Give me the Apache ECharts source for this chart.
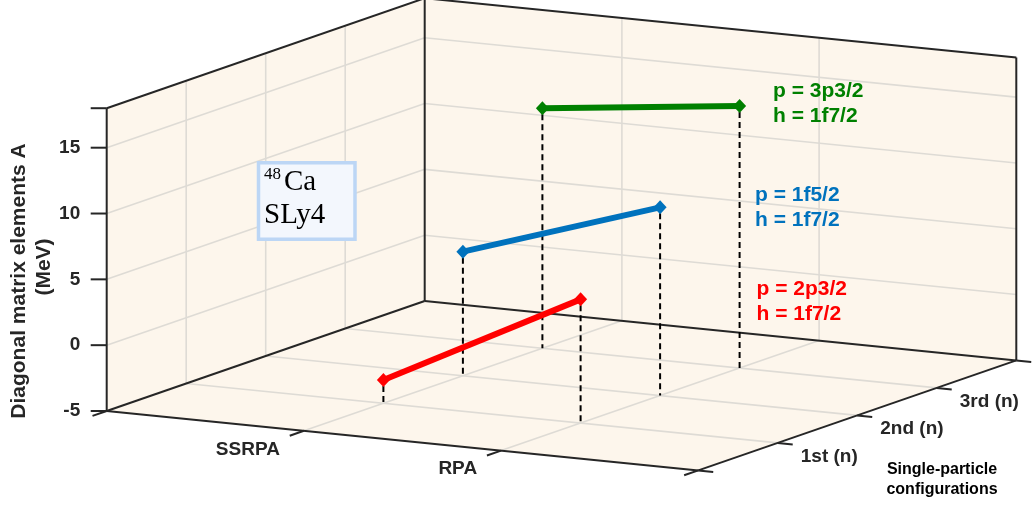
<!DOCTYPE html>
<html><head><meta charset="utf-8">
<script src="https://cdn.jsdelivr.net/npm/echarts@6/dist/echarts.min.js"></script>
<style>html,body{margin:0;padding:0;background:#fff}#chart{width:1032px;height:505px}</style>
</head><body><div id="chart"></div>
<script>
// ---------- data ----------
const methods = ['SSRPA', 'RPA'];
const configs = ['1st (n)', '2nd (n)', '3rd (n)'];
const xTickValues = [0, 1, 2, 3];
const xTickLabels = ['', 'SSRPA', 'RPA', ''];
const yTickValues = [0, 1, 2, 3, 4];
const yTickLabels = ['', '1st (n)', '2nd (n)', '3rd (n)', ''];
const zTickValues = [-5, 0, 5, 10, 15, 18];
const zTickLabels = ['-5', '0', '5', '10', '15', ''];
const zGridValues = [0, 5, 10, 15];
const xGridValues = [1, 2];
const yGridValues = [1, 2, 3];
const xLim = [0, 3], yLim = [0, 4], zLim = [-5, 18];
// each series: configuration position (1st/2nd/3rd) and values at SSRPA (x=1), RPA (x=2)
const redConfig = 1,   redValues   = [-3.23, 4.4];
const blueConfig = 2,  blueValues  = [4.43, 9.3];
const greenConfig = 3, greenValues = [13.23, 14.9];
const methodPos = [1, 2];

// ---------- orthographic view (projection onto drawing plane) ----------
const VIEW = { ox: 106.7, oy: 411, ex: [197.2, 19.8], ey: [79.5, -27.5], ez: -13.165 };
function P(x, y, z) {
  const dx = x - xLim[0], dy = y - yLim[0], dz = z - zLim[0];
  return [VIEW.ox + dx * VIEW.ex[0] + dy * VIEW.ey[0],
          VIEW.oy + dx * VIEW.ex[1] + dy * VIEW.ey[1] + dz * VIEW.ez];
}

const FONT = '"Liberation Sans", Arial, sans-serif';
const SERIF = '"Liberation Serif", "DejaVu Serif", serif';
const TXT = '#262626';

function renderBox(params, api) {
  const c = (x, y, z) => api.coord(P(x, y, z));
  const ch = [];
  const poly = (pts, fill) => ch.push({ type: 'polygon', shape: { points: pts }, style: { fill: fill, stroke: null } });
  const seg = (a, b, st) => ch.push({ type: 'line', shape: { x1: a[0], y1: a[1], x2: b[0], y2: b[1] }, style: st });
  const txt = (t, x, y, align, va, size, color) => ch.push({ type: 'text', style: { text: t, x: x, y: y, align: align, verticalAlign: va, font: 'bold ' + size + 'px ' + FONT, fill: color } });
  const [x0, x1] = xLim, [y0, y1] = yLim, [z0, z1] = zLim;
  const wall = '#fdf6ec';
  // walls
  poly([c(x0, y0, z0), c(x0, y1, z0), c(x0, y1, z1), c(x0, y0, z1)], wall);
  poly([c(x0, y1, z0), c(x1, y1, z0), c(x1, y1, z1), c(x0, y1, z1)], wall);
  poly([c(x0, y0, z0), c(x1, y0, z0), c(x1, y1, z0), c(x0, y1, z0)], wall);
  // grid
  const g = { stroke: '#dedbd5', lineWidth: 1.6 };
  zGridValues.forEach(z => { seg(c(x0, y0, z), c(x0, y1, z), g); seg(c(x0, y1, z), c(x1, y1, z), g); });
  yGridValues.forEach(y => { seg(c(x0, y, z0), c(x0, y, z1), g); seg(c(x0, y, z0), c(x1, y, z0), g); });
  xGridValues.forEach(x => { seg(c(x, y1, z0), c(x, y1, z1), g); seg(c(x, y0, z0), c(x, y1, z0), g); });
  // edges
  const e = { stroke: '#262626', lineWidth: 2 };
  seg(c(x0, y0, z0), c(x0, y0, z1), e);
  seg(c(x0, y0, z1), c(x0, y1, z1), e);
  seg(c(x0, y1, z0), c(x0, y1, z1), e);
  seg(c(x0, y1, z1), c(x1, y1, z1), e);
  seg(c(x1, y1, z0), c(x1, y1, z1), e);
  seg(c(x0, y0, z0), c(x1, y0, z0), e);
  seg(c(x1, y0, z0), c(x1, y1, z0), e);
  seg(c(x1, y1, z0), c(x0, y1, z0), e);
  seg(c(x0, y1, z0), c(x0, y0, z0), e);
  // ticks
  const L = 15;
  const nY = Math.hypot(VIEW.ey[0], VIEW.ey[1]), nX = Math.hypot(VIEW.ex[0], VIEW.ex[1]);
  const dX = [-VIEW.ey[0] / nY * L, -VIEW.ey[1] / nY * L];
  const dY = [VIEW.ex[0] / nX * L, VIEW.ex[1] / nX * L];
  xTickValues.forEach((x, i) => {
    const p = c(x, y0, z0);
    seg(p, [p[0] + dX[0], p[1] + dX[1]], e);
    if (xTickLabels[i]) txt(xTickLabels[i], p[0] - 24, p[1] + 18.6, 'right', 'middle', 19, TXT);
  });
  yTickValues.forEach((y, i) => {
    const p = c(x1, y, z0);
    seg(p, [p[0] + dY[0], p[1] + dY[1]], e);
    if (yTickLabels[i]) txt(yTickLabels[i], p[0] + 23, p[1] + 13.7, 'left', 'middle', 19, TXT);
  });
  zTickValues.forEach((z, i) => {
    const p = c(x0, y0, z);
    seg(p, [p[0] - 16, p[1]], e);
    if (zTickLabels[i]) txt(zTickLabels[i], p[0] - 26.5, p[1], 'right', 'middle', 19, TXT);
  });
  return { type: 'group', children: ch };
}

function renderDrop(params, api) {
  const x = api.value(0), y = api.value(1), z = api.value(2);
  const a = api.coord(P(x, y, z)), b = api.coord(P(x, y, zLim[0]));
  return { type: 'line', shape: { x1: a[0], y1: a[1] + 6, x2: b[0], y2: b[1] },
           style: { stroke: '#000', lineWidth: 2, lineDash: [6, 4] } };
}

const groups = [
  { cfg: redConfig, vals: redValues, color: '#ff0000' },
  { cfg: blueConfig, vals: blueValues, color: '#0072bd' },
  { cfg: greenConfig, vals: greenValues, color: '#008000' }
];
const dropData = [];
groups.forEach(gr => gr.vals.forEach((v, i) => dropData.push([methodPos[i], gr.cfg, v])));

const lineSeries = groups.map(gr => ({
  type: 'line', z: 4, silent: true, clip: false,
  data: gr.vals.map((v, i) => P(methodPos[i], gr.cfg, v)),
  symbol: 'diamond', symbolSize: [13, 14],
  itemStyle: { color: gr.color },
  lineStyle: { color: gr.color, width: 6 }
}));

const chart = echarts.init(document.getElementById('chart'), null, { renderer: 'canvas' });
chart.setOption({
  animation: false,
  backgroundColor: '#ffffff',
  grid: { left: 0, right: 0, top: 0, bottom: 0 },
  xAxis: { type: 'value', min: 0, max: 1032, show: false },
  yAxis: { type: 'value', min: 0, max: 505, inverse: true, show: false },
  series: [
    { type: 'custom', z: 1, silent: true, data: [[0, 0]], renderItem: renderBox },
    { type: 'custom', z: 3, silent: true, data: dropData, renderItem: renderDrop }
  ].concat(lineSeries),
  graphic: [
    { type: 'text', x: 19, y: 281, rotation: Math.PI / 2, style: { text: 'Diagonal matrix elements A', align: 'center', verticalAlign: 'middle', font: 'bold 21px ' + FONT, fill: TXT } },
    { type: 'text', x: 44, y: 267, rotation: Math.PI / 2, style: { text: '(MeV)', align: 'center', verticalAlign: 'middle', font: 'bold 21px ' + FONT, fill: TXT } },
    { type: 'text', x: 942, y: 480, style: { text: 'Single-particle\nconfigurations', align: 'center', verticalAlign: 'middle', lineHeight: 20, font: 'bold 16px ' + FONT, fill: '#000' } },
    { type: 'text', x: 773, y: 104.2, z: 10, style: { text: 'p = 3p3/2\nh = 1f7/2', align: 'left', verticalAlign: 'middle', lineHeight: 25, font: 'bold 21px ' + FONT, fill: '#008000' } },
    { type: 'text', x: 755, y: 207.5, z: 10, style: { text: 'p = 1f5/2\nh = 1f7/2', align: 'left', verticalAlign: 'middle', lineHeight: 25, font: 'bold 21px ' + FONT, fill: '#0072bd' } },
    { type: 'text', x: 756.5, y: 301.7, z: 10, style: { text: 'p = 2p3/2\nh = 1f7/2', align: 'left', verticalAlign: 'middle', lineHeight: 25, font: 'bold 21px ' + FONT, fill: '#ff0000' } },
    { type: 'rect', z: 10, shape: { x: 258.5, y: 162.8, width: 96.5, height: 76.5 }, style: { fill: '#f3f7fd', stroke: '#bcd6f5', lineWidth: 3.5 } },
    { type: 'text', z: 11, x: 264, y: 175, style: { text: '48', align: 'left', verticalAlign: 'middle', font: '17px ' + SERIF, fill: '#000' } },
    { type: 'text', z: 11, x: 284, y: 182.5, style: { text: 'Ca', align: 'left', verticalAlign: 'middle', font: '29px ' + SERIF, fill: '#000' } },
    { type: 'text', z: 11, x: 264, y: 215.5, style: { text: 'SLy4', align: 'left', verticalAlign: 'middle', font: '29px ' + SERIF, fill: '#000' } }
  ]
});
</script></body></html>
